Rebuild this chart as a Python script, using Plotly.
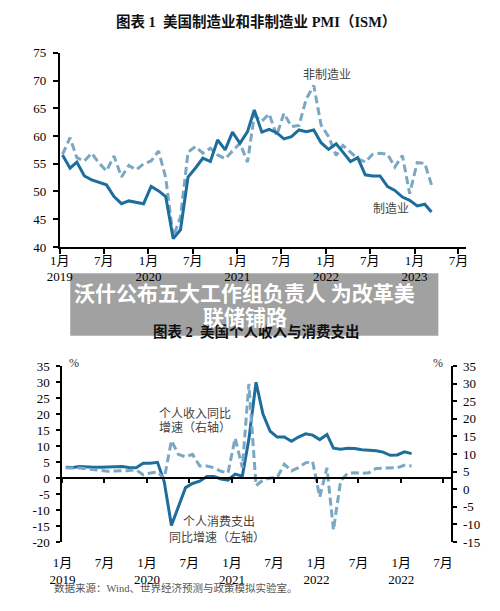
import plotly.graph_objects as go
import pandas as pd

W, H = 500, 611

# ---------------- Data: chart 1 (ISM PMI, monthly, Jan 2019 - Mar 2023) ----------------
pmi_start = "2019-01-01"
manufacturing = [56.6, 54.2, 55.3, 52.8, 52.1, 51.7, 51.2, 49.1, 47.8, 48.3, 48.1, 47.8,
                 50.9, 50.1, 49.1, 41.5, 43.1, 52.6, 54.2, 56.0, 55.4, 59.3, 57.5, 60.7,
                 58.7, 60.8, 64.7, 60.7, 61.2, 60.6, 59.5, 59.9, 61.1, 60.8, 61.1, 58.8,
                 57.6, 58.6, 57.1, 55.4, 56.1, 53.0, 52.8, 52.8, 50.9, 50.2, 49.0, 48.4,
                 47.4, 47.7, 46.3]
non_manufacturing = [56.7, 59.7, 56.1, 55.5, 56.9, 55.1, 53.7, 56.4, 52.6, 54.7, 53.9, 55.0,
                     55.5, 57.3, 52.5, 41.8, 45.4, 57.1, 58.1, 56.9, 57.8, 56.6, 55.9, 57.2,
                     58.7, 55.3, 63.7, 62.7, 64.0, 60.1, 64.1, 61.7, 61.9, 66.7, 69.1, 62.0,
                     59.9, 56.5, 58.3, 57.1, 55.9, 55.3, 56.7, 56.9, 56.7, 54.4, 56.5, 49.6,
                     55.2, 55.1, 51.2]

# ---------------- Data: chart 2 (YoY %, monthly, Jan 2019 - Feb 2023) ----------------
inc_start = "2019-01-01"
consumption_yoy = [3.4, 3.3, 3.6, 3.4, 3.4, 3.4, 3.5, 3.6, 3.6, 3.3, 3.2, 4.6,
                   4.6, 4.9, -1.2, -14.8, -8.8, -3.0, -1.7, -1.0, 0.5, 0.5, -0.3, -0.7,
                   1.2, 0.6, 12.0, 29.9, 20.0, 14.6, 12.8, 12.8, 11.5, 12.8, 13.8, 13.4,
                   12.0, 13.6, 9.3, 9.0, 9.3, 9.2, 8.8, 8.7, 8.5, 8.1, 7.1, 7.2,
                   8.2, 7.6]
income_yoy = [6.0, 6.1, 6.0, 5.8, 5.5, 5.2, 5.1, 5.2, 5.2, 5.3, 5.5, 4.1,
              4.6, 4.9, 3.0, 13.8, 9.9, 9.2, 9.9, 6.6, 6.6, 6.1, 5.1, 4.6,
              14.5, 6.1, 29.9, 1.0, 2.6, 3.2, 3.3, 7.1, 5.2, 6.1, 7.5, 7.9,
              -2.2, 6.1, -11.6, 2.4, 4.5, 4.7, 4.5, 4.7, 5.9, 6.0, 6.0, 6.1,
              6.8, 6.6]

tick_dates = ["2019-01-01", "2019-07-01", "2020-01-01", "2020-07-01", "2021-01-01",
              "2021-07-01", "2022-01-01", "2022-07-01", "2023-01-01", "2023-07-01"]
tick_text_1 = ["1月<br>2019", "7月", "1月<br>2020", "7月", "1月<br>2021", "7月",
               "1月<br>2022", "7月", "1月<br>2023", "7月"]
tick_text_2 = ["1月<br>2019", "7月", "1月<br>2020", "7月", "1月<br>2021", "7月",
               "1月<br>2022", "7月", "1月<br>2022", "7月"]
y1_ticks = [40, 45, 50, 55, 60, 65, 70, 75]
y2_ticks = [-20, -15, -10, -5, 0, 5, 10, 15, 20, 25, 30, 35]
y3_ticks = [-15, -10, -5, 0, 5, 10, 15, 20, 25, 30, 35]

# ---------------- helpers ----------------
def px_x(p):
    return p / W

def px_y(p):
    return 1 - p / H

x1 = pd.date_range(pmi_start, periods=len(manufacturing), freq="MS") + pd.Timedelta(days=11)
x2 = pd.date_range(inc_start, periods=len(consumption_yoy), freq="MS") + pd.Timedelta(days=14)

SOLID = "#1d6e9c"
DASH = "#7aa8c3"
SERIF = "Liberation Serif, Noto Sans CJK SC, serif"
CJK = "Noto Sans CJK SC, sans-serif"

fig = go.Figure()
fig.add_trace(go.Scatter(x=x1, y=non_manufacturing, mode="lines", xaxis="x", yaxis="y",
                         line=dict(color=DASH, width=3, dash="8px,4px"), showlegend=False))
fig.add_trace(go.Scatter(x=x1, y=manufacturing, mode="lines", xaxis="x", yaxis="y",
                         line=dict(color=SOLID, width=3), showlegend=False))
fig.add_trace(go.Scatter(x=x2, y=income_yoy, mode="lines", xaxis="x2", yaxis="y3",
                         line=dict(color=DASH, width=3, dash="8px,4px"), showlegend=False))
fig.add_trace(go.Scatter(x=x2, y=consumption_yoy, mode="lines", xaxis="x2", yaxis="y2",
                         line=dict(color=SOLID, width=3), showlegend=False))
# dummy trace so the zero-line x axis is drawn
fig.add_trace(go.Scatter(x=[x2[0]], y=[None], mode="lines", xaxis="x3", yaxis="y2",
                         showlegend=False, hoverinfo="skip"))

axis_common = dict(showgrid=False, zeroline=False, showline=True, linecolor="black",
                   linewidth=2, ticks="outside", tickcolor="black", tickwidth=2,
                   tickfont=dict(family=SERIF, size=13, color="black"))

# chart 1 geometry
c1_left, c1_right, c1_top, c1_bot = 48.3, 467, 47, 246
# chart 2 geometry
c2_left, c2_right, c2_top, c2_bot = 51.0, 452, 368, 548.5
y2_dom = [px_y(c2_bot), px_y(c2_top)]
zero_pos = y2_dom[0] + (20 / 55) * (y2_dom[1] - y2_dom[0])

fig.update_layout(
    width=W, height=H, margin=dict(l=0, r=0, t=0, b=0),
    paper_bgcolor="white", plot_bgcolor="white", showlegend=False,
    xaxis=dict(axis_common, domain=[px_x(c1_left), px_x(c1_right)], anchor="y",
               range=["2019-01-01", "2023-08-01"], tickvals=tick_dates, ticktext=tick_text_1,
               ticklen=5, ticklabelstandoff=-5),
    yaxis=dict(axis_common, domain=[px_y(c1_bot), px_y(c1_top)], anchor="x",
               range=[40, 75], tickvals=y1_ticks, ticklen=5, ticklabelstandoff=4),
    xaxis2=dict(axis_common, domain=[px_x(c2_left), px_x(c2_right)], anchor="y2",
                range=["2019-01-01", "2023-08-06"], tickvals=tick_dates, ticktext=tick_text_2,
                showline=False, ticklen=8, tickcolor="rgba(0,0,0,0)"),
    xaxis3=dict(axis_common, overlaying="x2", anchor="free", position=zero_pos,
                range=["2019-01-01", "2023-08-06"], tickvals=tick_dates,
                showticklabels=False, ticklen=4),
    yaxis2=dict(axis_common, domain=y2_dom, anchor="x2", range=[-20, 35],
                tickvals=y2_ticks, ticktext=[str(v) for v in y2_ticks], ticklen=4,
                ticklabelstandoff=4),
    yaxis3=dict(axis_common, overlaying="y2", side="right", anchor="x2", range=[-15, 35],
                tickvals=y3_ticks, ticktext=[str(v) for v in y3_ticks], ticklen=4,
                ticklabelstandoff=3),
)

def txt(s, x, y, size=12, color="#333333", bold=False, xanchor="center", family=SERIF):
    fig.add_annotation(text=("<b>%s</b>" % s) if bold else s, x=px_x(x), y=px_y(y),
                       xref="paper", yref="paper", showarrow=False, xanchor=xanchor,
                       yanchor="middle", font=dict(family=family, size=size, color=color))

# titles
txt("图表 1  美国制造业和非制造业 PMI（ISM）", 251, 15, size=14.5, color="#111111", bold=True)
txt("图表 2  美国个人收入与消费支出", 251, 333, size=14.5, color="#111111", bold=True)

# chart 1 labels
txt("非制造业", 324, 70, size=12, color="#444444")
txt("制造业", 389.5, 207, size=12, color="#444444")

# chart 2 labels
txt("%", 62.5, 365, size=12, color="#333333")
txt("%", 438, 365, size=12, color="#333333")
txt("个人收入同比", 148, 417, size=12, color="#444444", xanchor="left")
txt("增速（右轴）", 148, 431, size=12, color="#444444", xanchor="left")
txt("个人消费支出", 212.5, 528, size=12, color="#444444")
txt("同比增速（左轴）", 210, 544, size=12, color="#444444")

# source
txt("数据来源：Wind、世界经济预测与政策模拟实验室。", 40, 596, size=10.5, color="#555555",
    xanchor="left")

# banner overlay
fig.add_shape(type="rect", xref="paper", yref="paper", x0=px_x(59), x1=px_x(438.5),
              y0=px_y(337), y1=px_y(273), fillcolor="rgba(0,0,0,0.37)",
              line=dict(width=0), layer="above")
txt("沃什公布五大工作组负责人 为改革美", 239, 292, size=21, color="white", bold=True, family=CJK)
txt("联储铺路", 239, 317, size=21, color="white", bold=True, family=CJK)

fig.write_html("out.html")
